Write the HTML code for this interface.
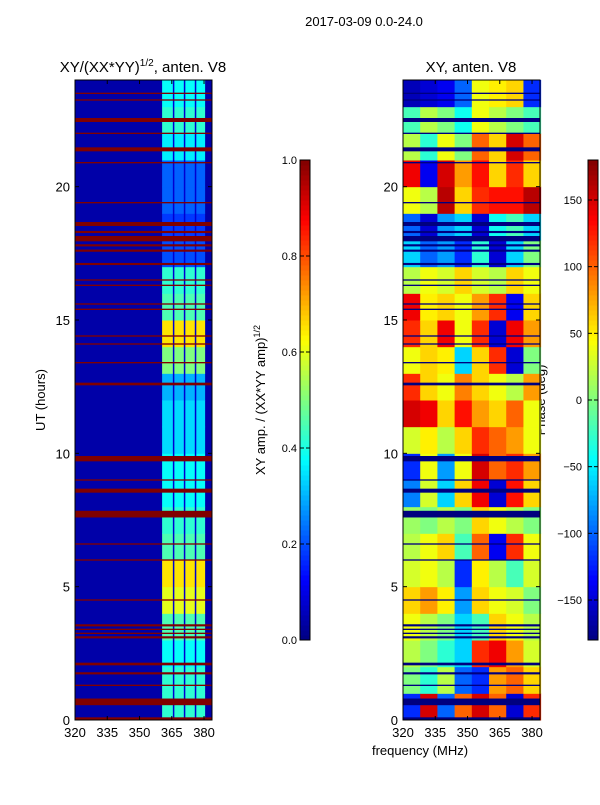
<!DOCTYPE html>
<html><head><meta charset="utf-8"><style>
body{margin:0;background:#fff;font-family:"Liberation Sans",sans-serif}
svg text{font-family:"Liberation Sans",sans-serif;fill:#000}
</style></head><body>
<svg id="fig" width="600" height="800" xmlns="http://www.w3.org/2000/svg">
<text x="364" y="26" font-size="13" text-anchor="middle">2017-03-09 0.0-24.0</text>
<text x="143" y="72" font-size="15" text-anchor="middle">XY/(XX*YY)<tspan font-size="10" dy="-6">1/2</tspan><tspan dy="6">, anten. V8</tspan></text>
<text x="471" y="72" font-size="15" text-anchor="middle">XY, anten. V8</text>
<text transform="translate(45,400) rotate(-90)" font-size="13" text-anchor="middle">UT (hours)</text>
<text transform="translate(265,400) rotate(-90)" font-size="13" text-anchor="middle">XY amp. / (XX*YY amp)<tspan font-size="9" dy="-5">1/2</tspan></text>
<text transform="translate(545,400) rotate(-90)" font-size="13" text-anchor="middle">Phase (deg)</text>
<text x="420" y="755" font-size="13" text-anchor="middle">frequency (MHz)</text>
<g id="g"></g>
</svg>
<script>
const hours=[0,1,2,3,4,5,6,7,8,9,10,11,12,13,14,15,16,17,18,19,20,21,22,23];
const ampByHour=[0.42,0.42,0.38,0.45,0.6,0.65,0.45,0.42,0.38,0.38,0.34,0.34,0.3,0.5,0.65,0.45,0.42,0.2,0.18,0.22,0.22,0.36,0.42,0.38];
const freqBins=[320,328,336,344,352,360,368,376];
const phaseGrid=[
[-120,150,-100,100,150,100,-150,120],
[0,-30,20,-100,-120,80,100,60],
[20,0,-30,-60,120,140,80,30],
[40,20,0,-60,-20,60,40,20],
[60,80,50,-80,60,40,30,0],
[30,40,20,-120,50,20,-20,30],
[20,40,60,-20,100,-140,120,40],
[10,0,20,0,60,40,20,0],
[-90,30,-60,60,140,-150,130,60],
[-120,40,-80,40,150,100,120,80],
[30,50,20,60,120,100,80,40],
[150,140,60,130,80,60,100,40],
[120,60,40,90,60,40,20,80],
[40,60,50,-60,60,120,-150,0],
[120,60,140,40,120,-150,140,80],
[140,50,60,40,80,120,-140,60],
[20,40,30,60,30,20,60,40],
[-60,-100,-80,-120,-30,-150,-60,0],
[-100,-150,-80,-60,-150,-40,-20,-60],
[40,20,160,60,120,130,130,160],
[140,-140,150,80,130,60,120,60],
[20,-30,40,0,100,60,150,100],
[-20,20,0,-40,40,20,0,-20],
[-160,-150,-140,-100,40,50,60,-120]];
const flagHours=[0.05,0.68,1.3,1.75,2.1,3.1,3.25,3.4,3.55,4.5,6.0,6.6,7.72,8.6,9.0,9.8,12.6,13.4,14.1,14.4,15.4,15.6,16.3,16.5,17.1,17.6,17.8,18.05,18.3,18.6,19.4,20.9,21.4,22.0,22.5,23.25,23.5];
const flagWidths=[0.1,0.25,0.05,0.08,0.1,0.08,0.05,0.05,0.08,0.05,0.05,0.05,0.25,0.15,0.05,0.2,0.1,0.05,0.05,0.05,0.05,0.05,0.05,0.05,0.08,0.08,0.08,0.2,0.08,0.15,0.05,0.05,0.15,0.05,0.15,0.05,0.05];
const ampTicks=[0,0.2,0.4,0.6,0.8,1.0];
const phaseTicks=[-150,-100,-50,0,50,100,150];
const xTicks=[320,335,350,365,380];
const yTicks=[0,5,10,15,20];

const NS="http://www.w3.org/2000/svg",G=document.getElementById('g');
function jet(v){v=Math.max(0,Math.min(1,v));
 const r=Math.max(0,Math.min(1,1.5-Math.abs(4*v-3))),g=Math.max(0,Math.min(1,1.5-Math.abs(4*v-2))),b=Math.max(0,Math.min(1,1.5-Math.abs(4*v-1)));
 return `rgb(${Math.round(r*255)},${Math.round(g*255)},${Math.round(b*255)})`;}
function el(t,a){const e=document.createElementNS(NS,t);for(const k in a)e.setAttribute(k,a[k]);G.appendChild(e);return e;}
const Y=h=>720-h*(640/24);
const panels=[{x0:75,name:'amp'},{x0:403,name:'phase'}];
const X=(x0,f)=>x0+(f-320)*(137/63.7);
// amplitude panel
el('rect',{x:75,y:80,width:137,height:640,fill:jet(0.04)});
hours.forEach((h,i)=>{
 const r=el('rect',{x:X(75,360.5),y:Y(h+1),width:X(75,380.5)-X(75,360.5),height:640/24+0.5,fill:jet(ampByHour[i])});
 
 
});
[365.5,370.6,375.7].forEach(f=>el('rect',{x:X(75,f),y:80,width:1.5,height:640,fill:jet(0.08)}));
// phase panel
freqBins.forEach((f,j)=>hours.forEach((h,i)=>{
 const r=el('rect',{x:X(403,f),y:Y(h+1),width:X(403,f+8)-X(403,f)+0.5,height:640/24+0.5,fill:jet((phaseGrid[i][j]+180)/360)});
 
 
}));
// flags
flagHours.forEach((h,i)=>{
 const w=flagWidths[i]*640/24;
 const a=el('rect',{x:75,y:Y(h)-w/2,width:137,height:Math.max(1,w),fill:'#800000'});
 
 
 const b=el('rect',{x:403,y:Y(h)-w/2,width:137,height:Math.max(1,w),fill:'#00007f'});
 
 
});
// axes frames and ticks
panels.forEach(p=>{
 const f=el('rect',{x:p.x0,y:80,width:137,height:640,fill:'none',stroke:'#000','stroke-width':1});
 
 
 yTicks.forEach(t=>{
  el('line',{x1:p.x0,x2:p.x0+4,y1:Y(t),y2:Y(t),stroke:'#000'});
  el('line',{x1:p.x0+137,x2:p.x0+133,y1:Y(t),y2:Y(t),stroke:'#000'});
  const tx=el('text',{x:p.x0-5,y:Y(t)+5,'font-size':13,'text-anchor':'end'});tx.textContent=t;
  
  
 });
 xTicks.forEach(t=>{
  el('line',{x1:X(p.x0,t),x2:X(p.x0,t),y1:720,y2:716,stroke:'#000'});
  el('line',{x1:X(p.x0,t),x2:X(p.x0,t),y1:80,y2:84,stroke:'#000'});
  const tx=el('text',{x:X(p.x0,t),y:737,'font-size':13,'text-anchor':'middle'});tx.textContent=t;
  
  
 });
});
// colorbars
function cbar(x,name,ticks,lo,hi,fmt){
 for(let k=0;k<96;k++)el('rect',{x:x,y:640-(k+1)*5,width:10,height:5.5,fill:jet((k+0.5)/96)});
 const f=el('rect',{x:x,y:160,width:10,height:480,fill:'none',stroke:'#000'});
 
 
 ticks.forEach(t=>{const y=640-(t-lo)/(hi-lo)*480;
  el('line',{x1:x+10,x2:x+6,y1:y,y2:y,stroke:'#000'});
  el('line',{x1:x,x2:x+4,y1:y,y2:y,stroke:'#000'});
  const tx=el('text',{x:x+(name=='amp-colorbar'?-3:-6),y:y+4,'font-size':11,'text-anchor':'end'});tx.textContent=fmt(t);
  
  
 });
}
cbar(300,'amp-colorbar',ampTicks,0,1,t=>t.toFixed(1));
cbar(588,'phase-colorbar',phaseTicks,-180,180,t=>t<0?'\u2212'+(-t):String(t));
</script>
</body></html>
